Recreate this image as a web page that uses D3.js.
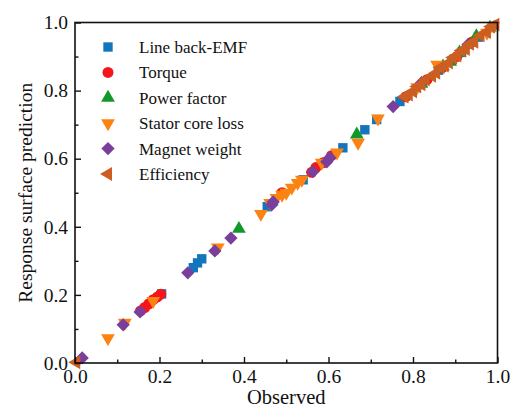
<!DOCTYPE html>
<html>
<head>
<meta charset="utf-8">
<script src="https://cdn.jsdelivr.net/npm/d3@7"></script>
<style>
  html, body { margin: 0; padding: 0; background: #fff; }
  svg { display: block; }
  text { font-family: "Liberation Serif", "DejaVu Serif", serif; fill: #111; }
</style>
</head>
<body>
<svg id="chart" width="512" height="410"></svg>
<script>
// Observed vs. response-surface predicted values (normalised) for each output
const backEmfObs  = [0.205, 0.280, 0.290, 0.300, 0.455, 0.540, 0.634, 0.686, 0.714, 0.769, 0.860, 0.915, 0.955];
const backEmfPred = [0.203, 0.280, 0.294, 0.306, 0.459, 0.538, 0.632, 0.685, 0.715, 0.768, 0.860, 0.912, 0.957];

const torqueObs  = [0.155, 0.165, 0.175, 0.185, 0.195, 0.203, 0.490, 0.560, 0.570, 0.587, 0.607, 0.783, 0.833, 0.870, 0.904, 0.940];
const torquePred = [0.153, 0.163, 0.174, 0.186, 0.194, 0.202, 0.500, 0.560, 0.574, 0.588, 0.609, 0.782, 0.832, 0.868, 0.900, 0.943];

const powerObs  = [0.388, 0.667, 0.820, 0.871, 0.888, 0.910, 0.950, 0.982];
const powerPred = [0.394, 0.671, 0.820, 0.871, 0.885, 0.912, 0.960, 0.985];

const statorObs  = [0.078, 0.118, 0.185, 0.338, 0.440, 0.462, 0.477, 0.490, 0.500, 0.513, 0.527, 0.537, 0.584, 0.620, 0.670, 0.717, 0.810, 0.857, 0.975, 0.990];
const statorPred = [0.073, 0.118, 0.182, 0.339, 0.438, 0.470, 0.485, 0.494, 0.500, 0.515, 0.529, 0.538, 0.588, 0.618, 0.647, 0.718, 0.810, 0.876, 0.970, 0.990];

const magnetObs  = [0.017, 0.114, 0.154, 0.267, 0.331, 0.369, 0.466, 0.469, 0.563, 0.596, 0.603, 0.753, 0.820, 0.930];
const magnetPred = [0.015, 0.112, 0.150, 0.265, 0.329, 0.367, 0.465, 0.473, 0.562, 0.591, 0.603, 0.753, 0.823, 0.935];

const efficiencyObs  = [0.003, 0.780, 0.790, 0.800, 0.810, 0.820, 0.830, 0.845, 0.855, 0.865, 0.875, 0.885, 0.895, 0.905, 0.915, 0.925, 0.935, 0.945, 0.960, 0.975, 0.985, 0.995];
const efficiencyPred = [0.002, 0.782, 0.788, 0.798, 0.812, 0.818, 0.832, 0.843, 0.852, 0.868, 0.873, 0.882, 0.897, 0.903, 0.918, 0.922, 0.937, 0.943, 0.962, 0.972, 0.988, 0.994];

const seriesNames = ["Line back-EMF", "Torque", "Power factor", "Stator core loss", "Magnet weight", "Efficiency"];
const tickValues = [0.0, 0.2, 0.4, 0.6, 0.8, 1.0];
const minorTickValues = [0.1, 0.3, 0.5, 0.7, 0.9];
const xTitle = "Observed";
const yTitle = "Response surface prediction";

const series = [
  { name: seriesNames[0], obs: backEmfObs,    pred: backEmfPred,    color: "#1475bc", symbol: d3.symbolSquare,   size: 88,  rotate: 0 },
  { name: seriesNames[1], obs: torqueObs,     pred: torquePred,     color: "#f5161c", symbol: d3.symbolCircle,   size: 95,  rotate: 0 },
  { name: seriesNames[2], obs: powerObs,      pred: powerPred,      color: "#12982a", symbol: d3.symbolTriangle, size: 82,  rotate: 0 },
  { name: seriesNames[3], obs: statorObs,     pred: statorPred,     color: "#fc8312", symbol: d3.symbolTriangle, size: 82,  rotate: 180 },
  { name: seriesNames[4], obs: magnetObs,     pred: magnetPred,     color: "#7a3f9d", symbol: d3.symbolSquare,   size: 88,  rotate: 45 },
  { name: seriesNames[5], obs: efficiencyObs, pred: efficiencyPred, color: "#cc5e22", symbol: d3.symbolTriangle, size: 82,  rotate: -90 }
];

const margin = { left: 75, top: 22.5, right: 14.5, bottom: 47 };
const W = 512, H = 410;
const svg = d3.select("#chart");

const x = d3.scaleLinear().domain([0, 1]).range([margin.left, W - margin.right]);
const y = d3.scaleLinear().domain([0, 1]).range([H - margin.bottom, margin.top]);

// Points
const plot = svg.append("g");
series.forEach(s => {
  const pts = s.obs.map((v, i) => [v, s.pred[i]]);
  plot.append("g").selectAll("path")
    .data(pts)
    .join("path")
    .attr("d", d3.symbol().type(s.symbol).size(s.size))
    .attr("transform", d => `translate(${x(d[0])},${y(d[1])}) rotate(${s.rotate})`)
    .attr("fill", s.color);
});

// Axes with inward ticks
const fmt = d3.format(".1f");
const xAxis = svg.append("g").attr("transform", `translate(0,${y(0)})`)
  .call(d3.axisBottom(x).tickValues(tickValues).tickFormat(fmt).tickSizeInner(-6).tickSizeOuter(0).tickPadding(9));
xAxis.append("g").call(d3.axisBottom(x).tickValues(minorTickValues).tickFormat("").tickSizeInner(-3.5).tickSizeOuter(0));

const yAxis = svg.append("g").attr("transform", `translate(${x(0)},0)`)
  .call(d3.axisLeft(y).tickValues(tickValues).tickFormat(fmt).tickSizeInner(-6).tickSizeOuter(0).tickPadding(7));
yAxis.append("g").call(d3.axisLeft(y).tickValues(minorTickValues).tickFormat("").tickSizeInner(-3.5).tickSizeOuter(0));

svg.selectAll(".domain").remove();
svg.selectAll(".tick line").attr("stroke", "#111").attr("stroke-width", 1.4);
svg.selectAll(".tick text")
  .style("font-family", '"Liberation Serif", serif')
  .style("font-size", "19.5px").attr("fill", "#111");
xAxis.selectAll(".tick text").attr("dy", "0.55em");

// Frame
svg.append("rect")
  .attr("x", x(0)).attr("y", y(1))
  .attr("width", x(1) - x(0)).attr("height", y(0) - y(1))
  .attr("fill", "none").attr("stroke", "#111").attr("stroke-width", 1.6);

// Axis titles
svg.append("text")
  .attr("x", (x(0) + x(1)) / 2).attr("y", 404)
  .attr("text-anchor", "middle")
  .style("font-size", "20.5px")
  .text(xTitle);

svg.append("text")
  .attr("transform", `translate(32,${(y(0) + y(1)) / 2}) rotate(-90)`)
  .attr("text-anchor", "middle")
  .style("font-size", "19.5px")
  .text(yTitle);

// Legend
const legend = svg.append("g");
series.forEach((s, i) => {
  const ly = 47 + i * 25.4;
  legend.append("path")
    .attr("d", d3.symbol().type(s.symbol).size(s.size))
    .attr("transform", `translate(108,${ly}) rotate(${s.rotate})`)
    .attr("fill", s.color);
  legend.append("text")
    .attr("x", 139).attr("y", ly)
    .attr("dy", "0.35em")
    .style("font-size", "17px")
    .text(s.name);
});
</script>
</body>
</html>
